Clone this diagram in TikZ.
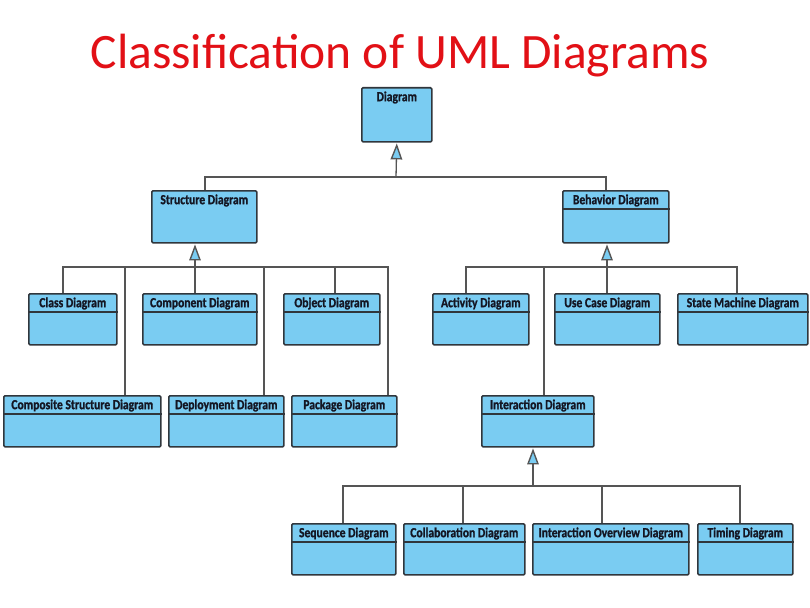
\documentclass[tikz,border=0pt]{standalone}
\usepackage{fontspec}
\setmainfont{Carlito}
\newfontfamily\labfont[FakeStretch=0.84,FakeBold=1.2]{Carlito}
\usetikzlibrary{arrows.meta}
\definecolor{boxblue}{RGB}{122,204,242}
\definecolor{boxline}{RGB}{48,54,60}
\definecolor{connline}{RGB}{85,85,85}
\definecolor{titlered}{RGB}{226,16,22}
\definecolor{labtext}{RGB}{20,22,35}
\tikzset{
  umlbox/.style={draw=boxline, fill=boxblue, line width=1.6pt, rounded corners=1.2pt, inner sep=0pt, anchor=north west},
  lab/.style={font=\labfont\bfseries\fontsize{13.8}{14}\selectfont, text=labtext, inner sep=0pt},
  sepline/.style={draw=boxline, line width=1.4pt},
  conn/.style={draw=connline, line width=1.3pt},
  gen/.style={conn, -{Triangle[open, fill=boxblue, length=16pt, width=11.5pt, line width=1.4pt]}, shorten >=0.8pt},
  titletext/.style={font=\fontsize{49.5}{52}\selectfont, text=titlered, inner sep=0pt, anchor=base}
}
% #1 name, #2 left, #3 top, #4 width, #5 height, #6 label, #7 separator (1/0)
\newcommand{\umlclass}[7]{%
  \node[umlbox, minimum width=#4pt, minimum height=#5pt] (#1) at (#2,#3) {};
  \node[lab] (#1-t) at ([yshift=-10.5pt]#1.north) {#6};
  \ifnum#7=1 \draw[sepline] ([yshift=-19pt]#1.north west) -- ([yshift=-19pt]#1.north east);\fi
}
\begin{document}
\begin{tikzpicture}[x=1pt, y=-1pt]
\useasboundingbox (0,0) rectangle (810,607);
\fill[white] (0,0) rectangle (810,607);

\node[titletext] (title) at (400,69) {Classification of UML Diagrams};

% boxes
\umlclass{d}{361}{87}{70}{54}{Diagram}{0}
\umlclass{sd}{151}{190}{105}{52}{Structure Diagram}{0}
\umlclass{bd}{562}{190}{106}{52}{Behavior Diagram}{1}
\umlclass{cls}{28}{293}{88}{51}{Class Diagram}{1}
\umlclass{cmp}{142}{293}{114}{51}{Component Diagram}{1}
\umlclass{obj}{283}{293}{96}{51}{Object Diagram}{1}
\umlclass{act}{432}{293}{96}{51}{Activity Diagram}{1}
\umlclass{uc}{554}{293}{105}{51}{Use Case Diagram}{1}
\umlclass{sm}{677}{293}{130}{51}{State Machine Diagram}{1}
\umlclass{cs}{3}{395}{157}{51}{Composite Structure Diagram}{1}
\umlclass{dep}{168}{395}{115}{51}{Deployment Diagram}{1}
\umlclass{pkg}{291}{395}{105}{51}{Package Diagram}{1}
\umlclass{id}{481}{395}{112}{51}{Interaction Diagram}{1}
\umlclass{seq}{291}{523}{104}{51}{Sequence Diagram}{1}
\umlclass{col}{403}{523}{121}{51}{Collaboration Diagram}{1}
\umlclass{io}{532}{523}{156}{51}{Interaction Overview Diagram}{1}
\umlclass{tim}{697}{523}{95}{51}{Timing Diagram}{1}

% level 1
\coordinate (b1a) at (396,177);
\coordinate (b1l) at (205,177);
\coordinate (b1r) at (606,177);
\draw[conn] (b1l |- sd.north) -- (b1l) -- (b1r) -- (b1r |- bd.north);
\draw[gen] (b1a) -- (d.south);

% structure
\coordinate (b2a) at (195,267);
\coordinate (b2l) at (63,267);
\coordinate (b2c) at (125,267);
\coordinate (b2d) at (264,267);
\coordinate (b2o) at (335,267);
\coordinate (b2r) at (388,267);
\draw[conn] (b2l |- cls.north) -- (b2l) -- (b2r) -- (b2r |- pkg.north);
\draw[conn] (b2c) -- (b2c |- cs.north);
\draw[conn] (b2d) -- (b2d |- dep.north);
\draw[conn] (b2o) -- (b2o |- obj.north);
\draw[conn] (b2a) -- (b2a |- cmp.north);
\draw[gen] (b2a) -- (b2a |- sd.south);

% behavior
\coordinate (b3a) at (607,267);
\coordinate (b3l) at (466,267);
\coordinate (b3i) at (544,267);
\coordinate (b3r) at (737,267);
\draw[conn] (b3l |- act.north) -- (b3l) -- (b3r) -- (b3r |- sm.north);
\draw[conn] (b3i) -- (b3i |- id.north);
\draw[conn] (b3a) -- (b3a |- uc.north);
\draw[gen] (b3a) -- (b3a |- bd.south);

% interaction
\coordinate (b4a) at (533,486);
\coordinate (b4l) at (343,486);
\coordinate (b4c) at (463,486);
\coordinate (b4o) at (602,486);
\coordinate (b4r) at (740,486);
\draw[conn] (b4l |- seq.north) -- (b4l) -- (b4r) -- (b4r |- tim.north);
\draw[conn] (b4c) -- (b4c |- col.north);
\draw[conn] (b4o) -- (b4o |- io.north);
\draw[gen] (b4a) -- (b4a |- id.south);
\end{tikzpicture}
\end{document}
